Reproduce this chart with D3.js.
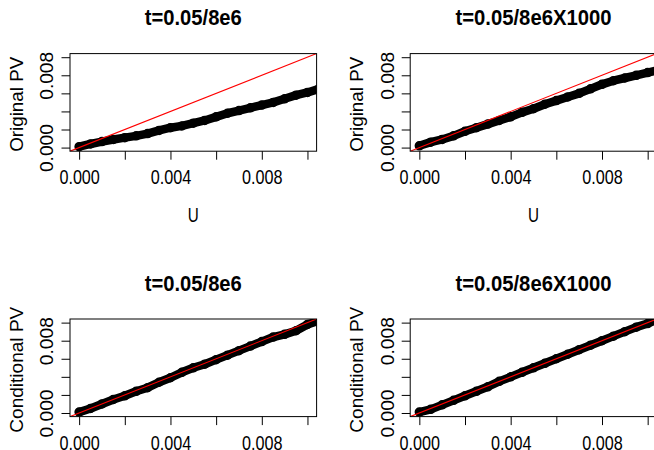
<!DOCTYPE html>
<html>
<head>
<meta charset="utf-8">
<script src="https://cdn.jsdelivr.net/npm/d3@7"></script>
<style>
  body { margin: 0; background: #fff; }
  svg { display: block; }
  text { font-family: "Liberation Sans", Arial, Helvetica, sans-serif; fill: #000; }
</style>
</head>
<body>
<svg class="chart" width="654" height="450"></svg>
<script>
// uniform quantiles (x) and the p-values
var uValues = [0, 0.0005, 0.001, 0.0015, 0.002, 0.0025, 0.003, 0.0035, 0.004, 0.0045, 0.005,
               0.0055, 0.006, 0.0065, 0.007, 0.0075, 0.008, 0.0085, 0.009, 0.0095, 0.01, 0.0105];

var originalPV = [0.0001, 0.0004, 0.00066, 0.0009, 0.0011, 0.0013, 0.00155, 0.0019, 0.0022, 0.0024, 0.0027,
                  0.003, 0.0034, 0.0038, 0.0041, 0.0044, 0.0047, 0.005, 0.0054, 0.0058, 0.0061, 0.0065];

var originalPVx1000 = [0.0002, 0.0006, 0.0009, 0.0013, 0.0018, 0.0022, 0.0026, 0.003, 0.0034, 0.0039, 0.0043,
                       0.0048, 0.0052, 0.0056, 0.006, 0.0065, 0.007, 0.0074, 0.0077, 0.008, 0.0083, 0.0086];

var conditionalPV = [0.0001, 0.0005, 0.001, 0.0015, 0.0019, 0.0024, 0.0028, 0.0034, 0.0039, 0.0045, 0.005,
                     0.0054, 0.0059, 0.0064, 0.0069, 0.0074, 0.0079, 0.0084, 0.0087, 0.0091, 0.0098, 0.0102];

var conditionalPVx1000 = [0.0001, 0.0004, 0.0009, 0.0014, 0.0019, 0.0024, 0.0029, 0.0035, 0.004, 0.0045, 0.005,
                          0.0055, 0.006, 0.0065, 0.007, 0.0075, 0.008, 0.0085, 0.009, 0.0095, 0.0099, 0.0104];

var titles = ["t=0.05/8e6", "t=0.05/8e6X1000"];
var yTitles = ["Original PV", "Conditional PV"];
var xTitle = "U";

var tickValues = [0, 0.002, 0.004, 0.006, 0.008, 0.010];
var xLabelValues = [0, 0.004, 0.008];
var yLabelValues = [0, 0.008];
var limits = [-0.0004, 0.0104];   // 0..0.01 plus R's 4% padding

var plotW = 246.6, plotH = 97.6;
var fmt = d3.format(".3f");

var panels = [
    { title: titles[0], titleLen: 97,  ylab: yTitles[0], ylabLen: 95,  values: originalPV,         left: 70,    top: 53.6, showU: true },
    { title: titles[1], titleLen: 156, ylab: yTitles[0], ylabLen: 95,  values: originalPVx1000,    left: 410.2, top: 53.6, showU: true },
    { title: titles[0], titleLen: 97,  ylab: yTitles[1], ylabLen: 126, values: conditionalPV,      left: 70,    top: 319,  showU: false },
    { title: titles[1], titleLen: 156, ylab: yTitles[1], ylabLen: 126, values: conditionalPVx1000, left: 410.2, top: 319,  showU: false }
];

// text squeezed to a fixed length, centred on its anchor point
function fitText(sel, len) {
    sel.attr("text-anchor", "start")
        .attr("x", -len / 2)
        .attr("textLength", len)
        .attr("lengthAdjust", "spacingAndGlyphs");
}

var svg = d3.select(".chart");

panels.forEach(function(p, i) {
    var x = d3.scaleLinear().domain(limits).range([0, plotW]);
    var y = d3.scaleLinear().domain(limits).range([plotH, 0]);

    var g = svg.append("g")
        .attr("transform", "translate(" + p.left + "," + p.top + ")");

    g.append("clipPath")
        .attr("id", "clip" + i)
        .append("rect")
        .attr("width", plotW)
        .attr("height", plotH);

    var pts = uValues.map(function(u, k) { return [u, p.values[k]]; });

    var plot = g.append("g").attr("clip-path", "url(#clip" + i + ")");

    // points are so dense they merge into a band
    plot.append("path")
        .datum(pts)
        .attr("fill", "none")
        .attr("stroke", "#000")
        .attr("stroke-width", 8.5)
        .attr("stroke-linejoin", "round")
        .attr("stroke-linecap", "round")
        .attr("d", d3.line()
            .x(function(d) { return x(d[0]); })
            .y(function(d) { return y(d[1]); }));

    plot.selectAll("circle")
        .data(pts)
        .enter().append("circle")
        .attr("cx", function(d) { return x(d[0]); })
        .attr("cy", function(d) { return y(d[1]); })
        .attr("r", 4)
        .attr("fill", "none")
        .attr("stroke", "#000")
        .attr("stroke-width", 1.5);

    // abline(0, 1)
    plot.append("line")
        .attr("x1", x(limits[0])).attr("y1", y(limits[0]))
        .attr("x2", x(limits[1])).attr("y2", y(limits[1]))
        .attr("stroke", "#ff0000")
        .attr("stroke-width", 1.1);

    g.append("rect")
        .attr("width", plotW)
        .attr("height", plotH)
        .attr("fill", "none")
        .attr("stroke", "#000")
        .attr("stroke-width", 1);

    // X-Axis
    var xAxis = d3.axisBottom(x)
        .tickValues(tickValues)
        .tickSize(8.5)
        .tickSizeOuter(0)
        .tickFormat(function(d) { return xLabelValues.indexOf(d) >= 0 ? fmt(d) : ""; });

    var gx = g.append("g")
        .attr("transform", "translate(0," + plotH + ")")
        .call(xAxis);
    gx.select(".domain").remove();
    gx.selectAll(".tick line").attr("stroke", "#000");
    gx.selectAll(".tick text")
        .filter(function(d) { return xLabelValues.indexOf(d) >= 0; })
        .attr("y", 33.2)
        .attr("dy", null)
        .attr("font-size", 19.5)
        .call(fitText, 40.5);

    // Y-Axis
    var yAxis = d3.axisLeft(y)
        .tickValues(tickValues)
        .tickSize(8.5)
        .tickSizeOuter(0)
        .tickFormat(function(d) { return yLabelValues.indexOf(d) >= 0 ? fmt(d) : ""; });

    var gy = g.append("g").call(yAxis);
    gy.select(".domain").remove();
    gy.selectAll(".tick line").attr("stroke", "#000");
    gy.selectAll(".tick text")
        .filter(function(d) { return yLabelValues.indexOf(d) >= 0; })
        .attr("dy", null)
        .attr("y", 0)
        .attr("font-size", 19.5)
        .call(fitText, 48)
        .attr("transform", "translate(-16.7,0) scale(0.9,1) rotate(-90)");

    g.append("text")
        .attr("transform", "translate(" + plotW / 2 + ",-28.4)")
        .attr("font-size", 22)
        .attr("font-weight", "bold")
        .call(fitText, p.titleLen)
        .text(p.title);

    g.append("text")
        .attr("transform", "translate(-47.3," + (plotH / 2 + 1.9) + ") scale(0.9,1) rotate(-90)")
        .attr("font-size", 19.5)
        .call(fitText, p.ylabLen)
        .text(p.ylab);

    if (p.showU) {
        g.append("text")
            .attr("transform", "translate(" + plotW / 2 + "," + (plotH + 70.5) + ")")
            .attr("font-size", 20)
            .call(fitText, 11)
            .text(xTitle);
    }
});
</script>
</body>
</html>
